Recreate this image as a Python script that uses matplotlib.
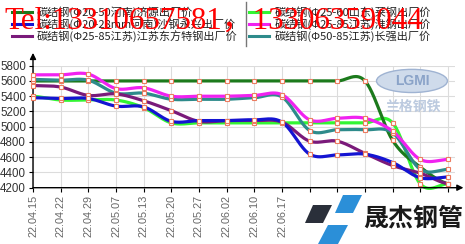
import numpy as np
import matplotlib
matplotlib.use("Agg")
import matplotlib.pyplot as plt
from matplotlib.lines import Line2D
from matplotlib.patches import Polygon, Ellipse, Rectangle

# ---------------- data ----------------
dates = ["22.04.15", "22.04.22", "22.04.29", "22.05.07", "22.05.13", "22.05.20",
         "22.05.27", "22.06.02", "22.06.10", "22.06.17", "22.06.24", "22.07.01",
         "22.07.08", "22.07.15", "22.07.22", "22.07.29"]

names = ["碳结钢(Φ20-50河南)济源出厂价",
         "碳结钢(Φ20-28mm河南)沙钢永兴出厂价",
         "碳结钢(Φ25-85江苏)江苏东方特钢出厂价",
         "碳结钢(Φ25-60山东)莱钢出厂价",
         "碳结钢(Φ25-85江苏)淮钢出厂价",
         "碳结钢(Φ50-85江苏)长强出厂价"]

dark_green = [5600, 5600, 5600, 5600, 5600, 5600, 5600, 5600, 5600, 5600, 5600, 5600, 5600, 4820, 4470, 4250]
blue       = [5380, 5370, 5370, 5270, 5260, 5070, 5080, 5080, 5090, 5060, 4640, 4630, 4640, 4530, 4330, 4340]
purple     = [5540, 5520, 5410, 5430, 5340, 5210, 5070, 5080, 5080, 5060, 4810, 4810, 4650, 4490, 4390, 4250]
lime       = [5400, 5350, 5350, 5350, 5250, 5050, 5050, 5050, 5050, 5050, 5050, 5050, 5050, 5050, 4250, 4250]
magenta    = [5680, 5680, 5690, 5500, 5510, 5400, 5400, 5400, 5410, 5420, 5090, 5110, 5110, 4940, 4570, 4570]
teal       = [5620, 5610, 5610, 5440, 5440, 5360, 5360, 5360, 5380, 5390, 4950, 4960, 4960, 4920, 4440, 4440]

series = [dark_green, blue, purple, lime, magenta, teal]
colors = ["#1c7a1c", "#1414d2", "#7a1a7a", "#33f533", "#f022f0", "#2e8b8b"]
draw_order = [3, 0, 5, 4, 2, 1]

yticks = [4200, 4400, 4600, 4800, 5000, 5200, 5400, 5600, 5800]


def catmull_rom(y, n=24):
    y = np.asarray(y, dtype=float)
    m = len(y)
    xs, ys = [], []
    for i in range(m - 1):
        p0 = y[i - 1] if i > 0 else y[i]
        p1, p2 = y[i], y[i + 1]
        p3 = y[i + 2] if i + 2 < m else y[i + 1]
        t = np.linspace(0, 1, n, endpoint=False)
        v = 0.5 * (2 * p1 + (-p0 + p2) * t + (2 * p0 - 5 * p1 + 4 * p2 - p3) * t ** 2
                   + (-p0 + 3 * p1 - 3 * p2 + p3) * t ** 3)
        xs.append(i + t)
        ys.append(v)
    xs.append([m - 1])
    ys.append([y[-1]])
    return np.concatenate(xs), np.concatenate(ys)


W, H = 465, 244
fig = plt.figure(figsize=(W / 100, H / 100), dpi=100)
plt.rcParams['font.family'] = ['Liberation Sans', 'Noto Sans CJK SC', 'DejaVu Sans']


def fx(px):
    return px / W


def fy(py):
    return 1 - py / H


ax_l, ax_r, ax_t, ax_b = 33, 455, 65.7, 187.7
ax = fig.add_axes([fx(ax_l), fy(ax_b), (ax_r - ax_l) / W, (ax_b - ax_t) / H])

x = np.arange(len(dates))
ax.set_xlim(0, (ax_r - ax_l) / ((448 - 33) / 15))
ax.set_ylim(4200, 5800)
ax.set_xticks(x)
ax.set_xticklabels(dates, rotation=90, fontsize=7.8, color="#666666")
ax.set_yticks(yticks)
ax.set_yticklabels([str(v) for v in yticks], fontsize=8.3, color="#333333")
ax.tick_params(direction="out", length=3, width=0.8, color="black", pad=2)
ax.grid(True, color="#dcdcdc", lw=0.8)
ax.set_axisbelow(True)
for s in ax.spines.values():
    s.set_visible(False)

# watermark
ax.add_patch(Ellipse((0.898, 0.875), 0.168, 0.19, transform=ax.transAxes,
                     facecolor="#cfdbeb", edgecolor="#9fb3d2", lw=1, zorder=1, clip_on=False))
ax.text(0.898, 0.872, "LGMI", transform=ax.transAxes, ha="center", va="center",
        fontsize=10, fontweight="bold", color="#8aa3c8", zorder=1)
ax.text(0.90, 0.66, "兰格钢铁", transform=ax.transAxes, ha="center", va="center",
        fontsize=10, color="#bccadf", family=["Noto Sans CJK SC"], zorder=1, fontweight="bold")

for i in draw_order:
    xs, ys = catmull_rom(series[i])
    ax.plot(xs, ys, color=colors[i], lw=2.3, solid_capstyle="round", zorder=3, clip_on=False)
    ax.plot(x, series[i], "s", ms=2.6, mfc="white", mec="#ec7c60", mew=0.8, zorder=4, clip_on=False)

# axis arrows
arr = dict(arrowstyle="-|>", color="black", lw=1, mutation_scale=9, shrinkA=0, shrinkB=0)
ax.annotate("", xy=(1.02, 0), xytext=(0, 0), xycoords="axes fraction", arrowprops=arr)
ax.annotate("", xy=(0, 1.105), xytext=(0, 0), xycoords="axes fraction", arrowprops=arr)

# legend (manual layout)
rows_y = [12, 24, 36]
for k in range(6):
    col = k // 3
    r = k % 3
    lx0 = 12 if col == 0 else 249
    tx = 37 if col == 0 else 275
    fig.add_artist(Line2D([fx(lx0), fx(lx0 + 20)], [fy(rows_y[r]), fy(rows_y[r])],
                          color=colors[k], lw=2.2))
    fig.text(fx(tx), fy(rows_y[r]), names[k], fontsize=8, color="#222222",
             va="center", ha="left", family=["Noto Sans CJK SC", "DejaVu Sans"])
fig.add_artist(Line2D([fx(246), fx(246)], [fy(2), fy(46)], color="#777777", lw=1))

# red phone overlay
fig.text(fx(4), fy(29), "Tel:13310657581，13306359044", fontsize=22.3, color="#ff0000",
         ha="left", va="baseline", family=["Liberation Serif", "Noto Sans CJK SC"])

# logo area
fig.add_artist(Rectangle((fx(304), 0), 1 - fx(304), fy(194), transform=fig.transFigure,
                         facecolor="white", edgecolor="none", zorder=5))


def poly(pts, color):
    fig.add_artist(Polygon([(fx(a), fy(b)) for a, b in pts], closed=True,
                           transform=fig.transFigure, facecolor=color, edgecolor="none", zorder=6))


poly([(313, 205), (332, 205), (323, 223), (305, 223)], "#2a2f3a")
poly([(343, 195), (362, 195), (353, 213), (335, 213)], "#2b8fd8")
poly([(328, 225), (348, 225), (338, 244), (318, 244)], "#2b8fd8")
fig.text(fx(413), fy(219), "晟杰钢管", fontsize=18, fontweight="bold", color="#1a1a1a",
         ha="center", va="center", family=["Noto Sans CJK SC"], zorder=7)

fig.savefig("out.png", dpi=100)
